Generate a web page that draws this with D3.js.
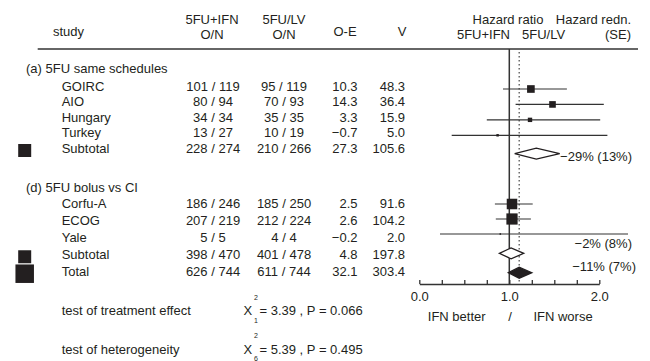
<!DOCTYPE html>
<meta charset="utf-8">
<style>
  body { margin: 0; background: #fff; }
  svg { font-family: "Liberation Sans", Arial, sans-serif; font-size: 13px; }
  text { fill: #231f20; }
</style>
<script src="https://d3js.org/d3.v7.min.js"></script>

<svg id="forest" width="650" height="361"></svg>

<script>
// groups and the rows listed under them
const groups = ["(a) 5FU same schedules", "(d) 5FU bolus vs CI"];
const trials = ["GOIRC", "AIO", "Hungary", "Turkey", "Subtotal",
                "Corfu-A", "ECOG", "Yale", "Subtotal", "Total"];
const kinds = ["trial", "trial", "trial", "trial", "subtotal",
               "trial", "trial", "trial", "subtotal", "total"];
const groupOf = [0, 0, 0, 0, 0, 1, 1, 1, 1, -1];

// deaths / patients
const ifnO = [101, 80, 34, 13, 228, 186, 207, 5, 398, 626];
const ifnN = [119, 94, 34, 27, 274, 246, 219, 5, 470, 744];
const lvO = [95, 70, 35, 10, 210, 185, 212, 4, 401, 611];
const lvN = [119, 93, 35, 19, 266, 250, 224, 4, 478, 744];

// log-rank stats
const oMinusE = [10.3, 14.3, 3.3, -0.7, 27.3, 2.5, 2.6, -0.2, 4.8, 32.1];
const variance = [48.3, 36.4, 15.9, 5.0, 105.6, 91.6, 104.2, 2.0, 197.8, 303.4];

// hazard ratio and 95% CI
const hr = [1.24, 1.48, 1.23, 0.87, 1.30, 1.03, 1.03, 0.90, 1.02, 1.11];
const hrLow = [0.93, 1.07, 0.75, 0.36, 1.06, 0.84, 0.85, 0.23, 0.89, 0.99];
const hrHigh = [1.64, 2.05, 2.01, 2.09, 1.56, 1.26, 1.24, 3.60, 1.16, 1.25];

// hazard reduction (SE), only for summary rows
const reduction = [null, null, null, null, -29, null, null, null, -2, -11];
const reductionSE = [null, null, null, null, 13, null, null, null, 8, 7];

// chi-square tests
const testLabels = ["test of treatment effect", "test of heterogeneity"];
const testDf = [1, 6];
const testChi = [3.39, 5.39];
const testP = [0.066, 0.495];

const axisTicks = d3.range(0, 2.001, 0.25);

const svg = d3.select("#forest");
const ink = "#231f20";

// row numbers (group heading, trials, blank line between groups)
let idx = 0, prevGroup = null;
const groupRow = [], rowIndex = [];
trials.forEach(function(t, i) {
  const g = groupOf[i];
  if (g >= 0 && g !== prevGroup) {
    if (idx > 0) idx++;
    groupRow.push(idx);
    idx++;
    prevGroup = g;
  }
  rowIndex.push(idx);
  idx++;
});

const textY = d3.scaleLinear().domain([0, 1, 5, 7, 12]).range([68, 86, 148.5, 187, 271.7]);
const markY = d3.scaleLinear().domain([1, 4, 5, 8, 10, 12]).range([89, 135.3, 153.7, 204, 234, 272.7]);
const x = d3.scaleLinear().domain([0, 2]).range([419.3, 599.3]);
const xClip = v => Math.min(x(v), 628);
const side = d3.scaleSqrt().domain([0, 100]).range([0, 11]);
const f1 = d3.format(".1f");

function label(txt, px, py, anchor) {
  return svg.append("text")
    .attr("x", px).attr("y", py).attr("dy", "0.35em")
    .attr("text-anchor", anchor || "start")
    .text(txt);
}

// header
label("study", 53, 31.7);
label("5FU+IFN", 212, 19.3, "middle");
label("O/N", 212, 34.3, "middle");
label("5FU/LV", 284, 19.3, "middle");
label("O/N", 284, 34.3, "middle");
label("O-E", 345, 31.7, "middle");
label("V", 402, 31.7, "middle");
label("Hazard ratio", 508, 19.3, "middle");
label("5FU+IFN", 510, 34.3, "end");
label("5FU/LV", 522, 34.3);
label("Hazard redn.", 631, 19.3, "end");
label("(SE)", 631, 34.3, "end");

svg.append("line")
  .attr("x1", 37.7).attr("x2", 638).attr("y1", 49).attr("y2", 49)
  .attr("stroke", "#333").attr("stroke-width", 1.5);

// group headings
groups.forEach(function(g, i) {
  label(g, 26, textY(groupRow[i]));
});

// table columns
trials.forEach(function(t, i) {
  const ty = textY(rowIndex[i]);
  label(t, 61.7, ty);
  label(ifnO[i] + " / " + ifnN[i], 213, ty, "middle");
  label(lvO[i] + " / " + lvN[i], 284, ty, "middle");
  label(f1(oMinusE[i]), 357.5, ty, "end");
  label(f1(variance[i]), 405, ty, "end");
});

// key squares to the left of summary rows
trials.forEach(function(t, i) {
  if (kinds[i] === "trial") return;
  const s = kinds[i] === "total" ? 18.5 : 13;
  svg.append("rect")
    .attr("x", 24.7 - s / 2).attr("y", textY(rowIndex[i]) + 2 - s / 2)
    .attr("width", s).attr("height", s)
    .attr("fill", ink);
});

// reference lines
const totalIdx = kinds.indexOf("total");
svg.append("line")
  .attr("x1", x(1)).attr("x2", x(1)).attr("y1", 49).attr("y2", 284)
  .attr("stroke", "#333").attr("stroke-width", 1.5);
svg.append("line")
  .attr("x1", x(hr[totalIdx])).attr("x2", x(hr[totalIdx])).attr("y1", 52).attr("y2", 284)
  .attr("stroke", "#555").attr("stroke-width", 1.3)
  .attr("stroke-dasharray", "1.5,2.5");

// trials: CI line + square
trials.forEach(function(t, i) {
  if (kinds[i] !== "trial") return;
  const my = markY(rowIndex[i]);
  svg.append("line")
    .attr("x1", x(hrLow[i])).attr("x2", xClip(hrHigh[i]))
    .attr("y1", my).attr("y2", my)
    .attr("stroke", "#333").attr("stroke-width", 1.2);
  const s = side(variance[i]);
  svg.append("rect")
    .attr("x", x(hr[i]) - s / 2).attr("y", my - s / 2)
    .attr("width", s).attr("height", s)
    .attr("fill", ink);
});

// subtotals and total: diamonds
const rednDy = { subtotal0: 3, subtotal1: -10, total: -6 };
trials.forEach(function(t, i) {
  if (kinds[i] === "trial") return;
  const my = markY(rowIndex[i]);
  const h = 5.5;
  svg.append("path")
    .attr("d", "M" + x(hrLow[i]) + "," + my +
               "L" + x(hr[i]) + "," + (my - h) +
               "L" + x(hrHigh[i]) + "," + my +
               "L" + x(hr[i]) + "," + (my + h) + "Z")
    .attr("fill", kinds[i] === "total" ? ink : "#fff")
    .attr("stroke", ink).attr("stroke-width", 1.3);

  const key = kinds[i] === "total" ? "total" : "subtotal" + groupOf[i];
  const tx = kinds[i] === "total" ? 636 : 632;
  label(d3.format("d")(reduction[i]) + "% (" + reductionSE[i] + "%)", tx, my + rednDy[key], "end");
});

// axis
const axis = d3.axisBottom(x)
  .tickValues(axisTicks)
  .tickSizeInner(-4)
  .tickSizeOuter(0)
  .tickPadding(8)
  .tickFormat(d => Number.isInteger(d) ? f1(d) : "");
const gAxis = svg.append("g")
  .attr("transform", "translate(0,284)")
  .call(axis);
gAxis.selectAll("path, line").attr("stroke", "#333").attr("stroke-width", 1.3);
gAxis.selectAll("text")
  .attr("font-size", 13)
  .attr("font-family", "Liberation Sans, Arial, sans-serif")
  .attr("fill", ink);

label("IFN better", 456.7, 316.7, "middle");
label("/", 510, 316.7, "middle");
label("IFN worse", 563, 316.7, "middle");

// chi-square tests
const testY = [310.7, 349];
testLabels.forEach(function(t, i) {
  const ty = testY[i];
  label(t, 61.7, ty);
  label("X", 243.5, ty);
  svg.append("text").attr("x", 256).attr("y", ty - 13).attr("dy", "0.35em")
    .attr("text-anchor", "middle").attr("font-size", 7).text("2");
  svg.append("text").attr("x", 256).attr("y", ty + 10).attr("dy", "0.35em")
    .attr("text-anchor", "middle").attr("font-size", 7).text(testDf[i]);
  label("= " + testChi[i].toFixed(2) + " , P = " + testP[i].toFixed(3), 259.5, ty);
});
</script>
